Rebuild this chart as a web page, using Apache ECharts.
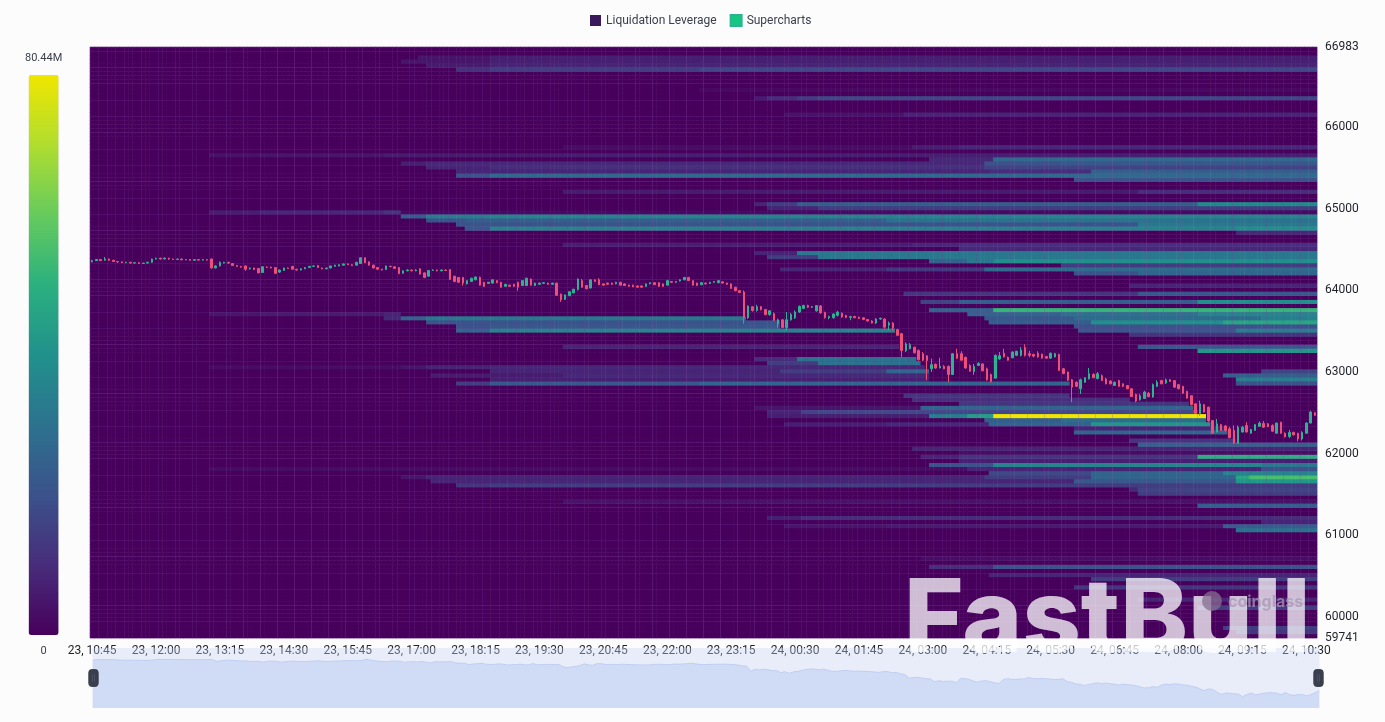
<!DOCTYPE html>
<html><head><meta charset="utf-8">
<style>html,body{margin:0;padding:0;background:#fcfcfc}#c{width:1385px;height:722px}</style>
<script src="https://cdn.jsdelivr.net/npm/echarts@6/dist/echarts.min.js"></script>
</head><body><div id="c"></div>
<script>
const seriesNames = ['Liquidation Leverage', 'Supercharts'];
const priceTicks = [59741, 60000, 61000, 62000, 63000, 64000, 65000, 66000, 66983];
const heatMax = 80.44;
const rowCount = 145, rowFloor = 59741, rowStep = 50, candleCount = 288;

// one row per price level: price, then pairs of (time index where the level changes, value in millions)
const heatRows = [
 [66841, 77,5, 94,7],
 [66791, 73,5, 94,7],
 [66741, 79,6, 94,8],
 [66691, 86,11, 94,14, 143,17],
 [66441, 143,2],
 [66341, 156,6, 159,10, 166,14, 171,17],
 [66141, 163,4, 191,8],
 [65741, 111,3, 193,7, 204,9],
 [65641, 28,4, 40,5, 69,6, 111,7],
 [65591, 197,9, 212,27],
 [65541, 73,7, 79,9, 210,20, 228,22],
 [65491, 79,8, 94,10, 111,11, 210,16],
 [65441, 86,8, 211,10, 235,24],
 [65391, 86,20, 94,27],
 [65341, 231,20],
 [65191, 111,6, 246,10],
 [65041, 156,8, 159,15, 166,24, 260,38],
 [64991, 159,8, 171,14],
 [64941, 28,7, 40,9, 69,12, 73,2],
 [64891, 73,24, 79,34, 94,36],
 [64841, 79,20, 88,24, 187,30],
 [64791, 86,20, 246,32],
 [64741, 88,22, 94,36, 269,40],
 [64691, 269,9],
 [64541, 111,7, 193,9, 204,11],
 [64491, 204,9],
 [64441, 156,8, 166,32],
 [64391, 159,14, 171,32],
 [64341, 197,25, 206,32, 212,40],
 [64291, 228,14],
 [64241, 162,8, 187,13, 210,28],
 [64191, 231,20, 246,26],
 [64041, 244,8],
 [63941, 191,12, 246,22],
 [63841, 195,16, 204,24, 260,40],
 [63741, 197,25, 212,52],
 [63691, 28,5, 40,6, 69,8, 73,0, 206,26, 228,30, 260,36],
 [63641, 69,9, 73,25, 79,32, 154,0, 210,22, 231,28, 275,34],
 [63591, 79,20, 162,0, 211,24, 235,40, 266,47],
 [63541, 86,20, 94,22, 162,0, 231,20],
 [63491, 86,26, 94,36, 189,0, 232,22, 269,34],
 [63441, 244,12],
 [63291, 111,8, 190,0, 246,22],
 [63241, 260,42],
 [63141, 156,10, 166,30, 194,0],
 [63091, 159,14, 171,30, 195,0],
 [63041, 28,3, 73,5, 79,8, 94,9, 196,0],
 [62991, 94,8, 162,14, 187,26, 197,0, 275,16],
 [62941, 80,6, 111,9, 197,0, 266,24],
 [62891, 94,7, 197,0, 269,34],
 [62841, 86,14, 94,22, 143,26, 230,0, 269,20],
 [62691, 191,12, 230,0],
 [62641, 193,10, 244,0],
 [62591, 204,12, 258,0],
 [62541, 156,5, 195,26, 259,0],
 [62491, 159,8, 167,16, 171,18, 260,0],
 [62441, 159,7, 197,34, 206,44, 212,80.44, 262,0],
 [62391, 210,24, 228,28, 262,0],
 [62341, 163,7, 187,9, 211,26, 235,42, 263,0],
 [62291, 231,8, 267,0],
 [62241, 231,26, 267,0],
 [62141, 244,12, 269,0],
 [62091, 246,25],
 [62041, 193,8],
 [61991, 204,3],
 [61941, 195,8, 204,12, 260,50],
 [61891, 204,7],
 [61841, 197,20, 212,36, 275,32],
 [61791, 28,3, 206,8, 275,20],
 [61741, 211,18, 235,26, 266,36],
 [61691, 73,5, 79,8, 210,14, 235,26, 269,46, 272,55],
 [61641, 80,8, 231,22, 269,42],
 [61591, 86,12, 94,14],
 [61541, 244,9, 246,16],
 [61491, 246,14],
 [61391, 111,4],
 [61341, 260,24],
 [61191, 159,7, 167,10],
 [61141, 275,8],
 [61091, 163,5, 187,6, 266,24],
 [61041, 269,30],
 [60691, 195,3],
 [60591, 197,10, 212,20],
 [60491, 211,8],
 [60441, 235,14],
 [60341, 231,12],
 [60191, 246,8],
 [60091, 260,14],
 [59841, 266,14],
 [59791, 269,12]
];

// open, close, low, high per 5-minute candle
const candles = [
[64350,64365,64345,64375],[64365,64380,64360,64385],[64380,64365,64360,64385],[64370,64385,64365,64410],[64385,64370,64365,64390],[64370,64355,64350,64375],[64355,64350,64340,64360],[64350,64340,64335,64355],[64340,64345,64335,64350],[64345,64335,64330,64350],
[64335,64340,64330,64345],[64340,64330,64325,64345],[64330,64335,64325,64340],[64335,64345,64330,64350],[64345,64385,64340,64390],[64385,64395,64380,64400],[64395,64385,64380,64400],[64385,64395,64380,64405],[64395,64385,64375,64400],[64385,64380,64375,64390],
[64380,64385,64375,64390],[64385,64375,64370,64390],[64375,64380,64370,64385],[64380,64370,64365,64385],[64370,64378,64365,64385],[64378,64372,64365,64385],[64372,64378,64365,64382],[64378,64372,64368,64385],[64385,64275,64270,64390],[64275,64300,64270,64310],
[64300,64345,64295,64355],[64335,64345,64330,64350],[64345,64335,64325,64350],[64330,64305,64300,64335],[64305,64295,64290,64310],[64295,64285,64280,64300],[64300,64260,64240,64305],[64265,64275,64255,64280],[64275,64255,64250,64280],[64270,64215,64210,64275],
[64220,64290,64215,64295],[64285,64280,64275,64295],[64285,64275,64270,64290],[64280,64210,64200,64285],[64225,64250,64215,64255],[64245,64275,64240,64280],[64275,64270,64265,64280],[64295,64260,64255,64300],[64260,64250,64245,64265],[64250,64265,64245,64270],
[64265,64280,64260,64285],[64280,64295,64275,64300],[64295,64300,64290,64305],[64305,64280,64275,64310],[64275,64265,64260,64280],[64265,64275,64260,64280],[64275,64300,64270,64305],[64295,64310,64290,64315],[64300,64315,64295,64320],[64310,64325,64305,64330],
[64325,64315,64310,64330],[64315,64305,64300,64320],[64310,64345,64305,64350],[64330,64400,64325,64405],[64400,64340,64335,64405],[64350,64310,64305,64355],[64310,64275,64270,64315],[64280,64260,64255,64285],[64260,64250,64245,64265],[64255,64300,64250,64305],
[64295,64290,64285,64305],[64290,64270,64265,64295],[64280,64205,64200,64285],[64210,64240,64205,64245],[64240,64250,64235,64260],[64250,64240,64235,64255],[64240,64250,64235,64260],[64265,64200,64195,64270],[64215,64160,64150,64220],[64175,64245,64170,64250],
[64245,64250,64240,64260],[64250,64240,64235,64255],[64240,64250,64235,64260],[64250,64245,64240,64255],[64255,64135,64130,64260],[64175,64110,64100,64180],[64160,64100,64095,64165],[64160,64090,64060,64165],[64080,64120,64075,64125],[64110,64150,64105,64155],
[64130,64165,64125,64170],[64160,64065,64060,64170],[64100,64050,64045,64105],[64085,64100,64080,64105],[64090,64130,64085,64135],[64120,64095,64090,64125],[64100,64040,64035,64105],[64050,64075,64045,64080],[64065,64050,64045,64070],[64075,64050,64045,64080],
[64100,64040,63995,64105],[64060,64120,64055,64125],[64060,64150,64055,64155],[64140,64065,64060,64145],[64060,64090,64055,64095],[64075,64090,64070,64095],[64085,64095,64080,64100],[64090,64075,64070,64095],[64075,64090,64070,64095],[64090,63940,63935,64095],
[63955,63885,63860,63960],[63890,63945,63885,63950],[63935,63985,63930,63990],[63970,64015,63965,64020],[64010,64140,64000,64145],[64120,64040,64035,64140],[64060,64020,64015,64065],[64030,64130,64025,64135],[64130,64110,64105,64135],[64130,64070,64065,64150],
[64080,64065,64060,64085],[64090,64075,64070,64095],[64090,64075,64070,64095],[64080,64100,64075,64105],[64100,64065,64060,64105],[64080,64060,64055,64085],[64065,64050,64045,64070],[64065,64045,64040,64070],[64055,64040,64035,64060],[64055,64040,64035,64060],
[64050,64080,64045,64085],[64080,64095,64075,64100],[64095,64070,64065,64100],[64095,64050,64045,64100],[64080,64050,64045,64085],[64065,64120,64060,64130],[64110,64100,64095,64115],[64100,64110,64095,64115],[64115,64130,64110,64135],[64130,64160,64125,64165],
[64160,64120,64115,64165],[64120,64065,64060,64125],[64090,64060,64055,64095],[64070,64095,64065,64100],[64090,64080,64075,64095],[64085,64100,64080,64105],[64100,64110,64095,64115],[64095,64120,64090,64125],[64105,64090,64085,64110],[64090,64075,64070,64095],
[64080,64025,64020,64085],[64040,63997,63990,64045],[63997,63975,63970,64000],[63981,63666,63592,64000],[63666,63809,63650,63815],[63800,63755,63740,63805],[63755,63800,63740,63825],[63800,63765,63755,63810],[63765,63705,63695,63775],[63705,63750,63690,63760],
[63715,63635,63625,63730],[63590,63640,63545,63655],[63640,63545,63540,63650],[63545,63640,63510,63735],[63640,63705,63630,63725],[63665,63735,63650,63755],[63735,63805,63725,63815],[63780,63815,63770,63825],[63815,63795,63785,63825],[63795,63800,63785,63810],
[63750,63815,63740,63820],[63810,63725,63715,63820],[63730,63665,63655,63740],[63665,63680,63645,63690],[63665,63710,63655,63720],[63695,63735,63680,63750],[63720,63675,63665,63730],[63695,63670,63660,63700],[63670,63680,63635,63690],[63680,63665,63660,63690],
[63670,63655,63650,63680],[63665,63645,63635,63670],[63645,63625,63620,63650],[63625,63600,63595,63635],[63600,63650,63590,63660],[63650,63660,63640,63665],[63650,63550,63530,63660],[63575,63600,63510,63620],[63600,63540,63510,63610],[63520,63450,63445,63530],
[63470,63265,63185,63475],[63260,63345,63245,63365],[63285,63335,63280,63355],[63305,63235,63230,63310],[63265,63150,63140,63275],[63225,63145,63135,63245],[63200,63140,62900,63205],[63040,63090,63000,63165],[63095,63050,63040,63105],[63050,63070,63045,63175],
[63070,63040,63035,63085],[63070,62970,62875,63080],[62970,63225,62965,63230],[63225,63170,63160,63285],[63225,63145,63140,63255],[63180,63050,63040,63190],[63080,63010,63005,63095],[63005,63070,62965,63100],[63080,63105,63075,63120],[63100,63015,63010,63105],
[63040,62905,62895,63055],[62970,62885,62870,62980],[62925,63205,62920,63215],[63160,63200,63150,63245],[63230,63185,63180,63285],[63180,63145,63140,63190],[63175,63245,63170,63255],[63205,63255,63195,63260],[63205,63270,63190,63305],[63300,63205,63190,63340],
[63225,63205,63180,63260],[63215,63195,63180,63225],[63230,63185,63175,63255],[63220,63170,63165,63225],[63190,63170,63165,63200],[63170,63230,63165,63240],[63185,63225,63180,63235],[63215,63020,63015,63225],[63040,62980,62975,63050],[63000,62900,62895,63005],
[62905,62815,62630,62915],[62875,62825,62815,62885],[62795,62905,62730,62920],[62875,62930,62870,62935],[62915,62980,62910,63050],[62970,62930,62925,62985],[62920,62980,62910,63000],[62955,62895,62890,62970],[62915,62855,62850,62930],[62890,62855,62850,62900],
[62835,62875,62830,62885],[62895,62825,62820,62905],[62855,62825,62815,62860],[62835,62795,62790,62840],[62795,62700,62695,62800],[62725,62645,62630,62735],[62660,62710,62650,62730],[62675,62755,62670,62770],[62740,62700,62690,62755],[62695,62845,62685,62860],
[62825,62875,62815,62900],[62895,62855,62850,62905],[62865,62905,62855,62920],[62905,62885,62880,62915],[62895,62815,62805,62900],[62845,62795,62790,62855],[62825,62740,62735,62830],[62765,62680,62675,62770],[62710,62600,62590,62715],[62610,62495,62490,62615],
[62490,62610,62465,62650],[62600,62510,62505,62610],[62570,62400,62385,62575],[62405,62250,62245,62410],[62265,62365,62260,62425],[62355,62285,62280,62365],[62340,62285,62270,62350],[62305,62195,62190,62330],[62285,62130,62120,62345],[62125,62325,62120,62345],
[62265,62325,62260,62340],[62345,62265,62260,62385],[62250,62295,62245,62305],[62285,62355,62280,62365],[62335,62375,62330,62395],[62370,62325,62315,62400],[62365,62330,62325,62375],[62345,62275,62270,62360],[62250,62375,62245,62380],[62385,62250,62245,62390],
[62250,62205,62200,62260],[62210,62260,62190,62290],[62260,62230,62225,62270],[62250,62180,62150,62255],[62180,62260,62160,62275],[62250,62375,62245,62385],[62375,62510,62370,62525],[62500,62470,62465,62510]
];

// 5-minute category labels, starting at 23, 10:45
const timeLabels = [];
for (let i = 0; i < candleCount; i++) {
  const mins = 10 * 60 + 45 + 5 * i;
  const d = 23 + Math.floor(mins / 1440);
  const h = Math.floor(mins % 1440 / 60), m = mins % 60;
  timeLabels.push(d + ', ' + String(h).padStart(2, '0') + ':' + String(m).padStart(2, '0'));
}
const rowLabels = [];
for (let k = 0; k < rowCount; k++) rowLabels.push(String(rowFloor + rowStep * k));

const heatData = [];
const filled = new Map();
heatRows.forEach(r => filled.set(Math.round((r[0] - rowFloor) / rowStep), r));
for (let k = 0; k < rowCount; k++) {
  const r = filled.get(k);
  let v = 0, p = 1;
  for (let i = 0; i < candleCount; i++) {
    if (r) while (p < r.length && r[p] <= i) { v = r[p + 1]; p += 2; }
    heatData.push([i, k, v]);
  }
}

const font = 'Roboto, sans-serif';
const gridLine = { show: true, interval: 3, lineStyle: { color: 'rgba(125,60,165,0.22)', width: 1 } };
const chart = echarts.init(document.getElementById('c'), null, { renderer: 'canvas' });
chart.setOption({
  animation: false,
  backgroundColor: '#fcfcfc',
  textStyle: { fontFamily: font },
  legend: {
    top: 9, left: 585, itemWidth: 11, itemHeight: 11, itemGap: 13, selectedMode: false,
    textStyle: { fontSize: 12, color: '#3a3f4b', fontFamily: font },
    data: [
      { name: seriesNames[0], icon: 'rect', itemStyle: { color: '#3b1a5c' } },
      { name: seriesNames[1], icon: 'rect', itemStyle: { color: '#16c784' } }
    ]
  },
  grid: { left: 90, right: 68, top: 47, bottom: 84 },
  xAxis: {
    type: 'category', data: timeLabels, boundaryGap: true, z: 3,
    axisLine: { show: false }, axisTick: { show: false },
    splitLine: gridLine,
    axisLabel: { interval: 14, margin: 7, fontSize: 12, color: '#1f2128', fontFamily: font }
  },
  yAxis: [
    { type: 'category', data: rowLabels, boundaryGap: true, z: 3,
      axisLine: { show: false }, axisTick: { show: false }, axisLabel: { show: false },
      splitLine: gridLine },
    { type: 'value', position: 'right', min: rowFloor, max: 66983, scale: true,
      axisLine: { show: false }, axisTick: { show: false }, splitLine: { show: false },
      axisLabel: { customValues: priceTicks, formatter: v => String(v), margin: 8, fontSize: 12, color: '#1f2128', fontFamily: font } }
  ],
  visualMap: {
    type: 'continuous', seriesIndex: 0, dimension: 2, min: 0, max: heatMax, calculable: false,
    left: 10, top: 38, itemWidth: 30, itemHeight: 560, text: ['80.44M', '0'], textGap: 11,
    textStyle: { fontSize: 11, color: '#3a3f4b', fontFamily: font },
    inRange: { color: ['#47005c', '#472d7b', '#3b528b', '#2c728e', '#21918c', '#2bb07f', '#66cb5d', '#b0dd2f', '#f0e600'] }
  },
  dataZoom: [{
    type: 'slider', xAxisIndex: 0, filterMode: 'none', left: 90, right: 68, top: 648, height: 60,
    showDetail: false, brushSelect: false, moveHandleSize: 0,
    backgroundColor: 'transparent', borderColor: 'transparent',
    fillerColor: 'rgba(200,214,245,0.38)',
    dataBackground: { lineStyle: { color: '#b9caf0', width: 1 }, areaStyle: { color: '#d6e0f7', opacity: 1 } },
    selectedDataBackground: { lineStyle: { color: '#b9caf0', width: 1 }, areaStyle: { color: '#d6e0f7', opacity: 1 } },
    handleIcon: 'path://M3,0 h4 a3,3 0 0 1 3,3 v12 a3,3 0 0 1 -3,3 h-4 a3,3 0 0 1 -3,-3 v-12 a3,3 0 0 1 3,-3z M3.6,5 v8 h0.8 v-8z M5.6,5 v8 h0.8 v-8z',
    handleSize: '28%', handleStyle: { color: '#3a3f4d', borderColor: '#3a3f4d' }
  }],
  series: [
    { name: seriesNames[0], type: 'heatmap', data: heatData, xAxisIndex: 0, yAxisIndex: 0,
      progressive: 0, silent: true, emphasis: { disabled: true }, z: 2 },
    { name: seriesNames[1], type: 'candlestick', data: candles, xAxisIndex: 0, yAxisIndex: 1, z: 5,
      barWidth: 2, silent: true,
      itemStyle: { color: '#2db391', color0: '#ee4f78', borderColor: '#2db391', borderColor0: '#ee4f78', borderWidth: 1 } }
  ],
  graphic: [
    { type: 'text', z: 100, silent: true, style: { x: 904, y: 621, text: 'FastBull', verticalAlign: 'middle',
        font: '800 102px Inter, sans-serif', fill: 'rgba(255,255,255,0.74)' } },
    { type: 'circle', z: 101, silent: true, shape: { cx: 1212, cy: 601, r: 10 }, style: { fill: 'rgba(135,110,145,0.75)' } },
    { type: 'text', z: 101, silent: true, style: { x: 1228, y: 602, text: 'coinglass', verticalAlign: 'middle',
        font: '700 16px Inter, sans-serif', fill: 'rgba(170,150,180,0.75)' } }
  ]
});
</script></body></html>
